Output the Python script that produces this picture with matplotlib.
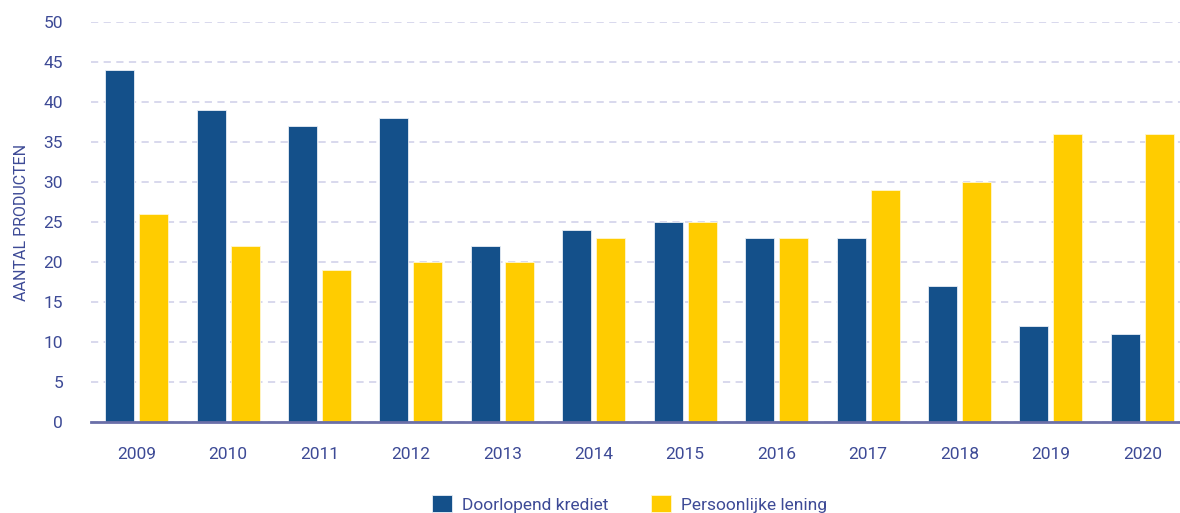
import matplotlib
matplotlib.use("Agg")
import matplotlib.pyplot as plt
from matplotlib import font_manager
import numpy as np

years = ["2009", "2010", "2011", "2012", "2013", "2014", "2015", "2016", "2017", "2018", "2019", "2020"]
doorlopend = [44, 39, 37, 38, 22, 24, 25, 23, 23, 17, 12, 11]
persoonlijk = [26, 22, 19, 20, 20, 23, 25, 23, 29, 30, 36, 36]
series_names = ["Doorlopend krediet", "Persoonlijke lening"]
y_label = "AANTAL PRODUCTEN"

names = {f.name for f in font_manager.fontManager.ttflist}
font = "Liberation Sans Narrow" if "Liberation Sans Narrow" in names else "Roboto"
plt.rcParams["font.family"] = [font, "DejaVu Sans"]

text_color = "#3D4A96"
blue = "#14508A"
yellow = "#FFCC00"

fig = plt.figure(figsize=(11.8, 5.13), dpi=100)
ax = fig.add_axes([91/1180, 1 - 422/513, 1097/1180, 400/513])

x = np.arange(len(years))
w = 0.318
off = 0.186
ax.bar(x - off, doorlopend, w, color=blue, edgecolor="#e8eef6", linewidth=0.6, zorder=3, label=series_names[0])
ax.bar(x + off, persoonlijk, w, color=yellow, edgecolor="#fff6d0", linewidth=0.6, zorder=3, label=series_names[1])

ax.set_xlim(-0.5, len(years) - 0.5)
ax.set_ylim(0, 50)
ax.set_yticks(range(0, 51, 5))
ax.set_xticks(x)
ax.set_xticklabels(years)
ax.yaxis.grid(True, color="#D6D6EC", linestyle=(0, (4, 3)), linewidth=1.3, zorder=0)
ax.set_axisbelow(True)
for s in ["top", "right", "left"]:
    ax.spines[s].set_visible(False)
ax.spines["bottom"].set_color("#6A6FA8")
ax.spines["bottom"].set_linewidth(2)
ax.spines["bottom"].set_zorder(4)
ax.tick_params(axis="both", length=0, labelsize=12.5, colors=text_color)
ax.tick_params(axis="x", pad=18)
ax.tick_params(axis="y", pad=20)
ax.set_ylabel(y_label, color=text_color, fontsize=11.5)
ax.yaxis.set_label_coords(-62/1097, 0.5)

leg = fig.legend(loc="center left", bbox_to_anchor=(432/1180, 1 - 504/513), ncol=2, frameon=False,
                 fontsize=12.5, handlelength=1.15, handleheight=1.15, columnspacing=2.5,
                 handletextpad=0.55, labelcolor=text_color, borderpad=0, borderaxespad=0)

fig.savefig("out.png", dpi=100)
